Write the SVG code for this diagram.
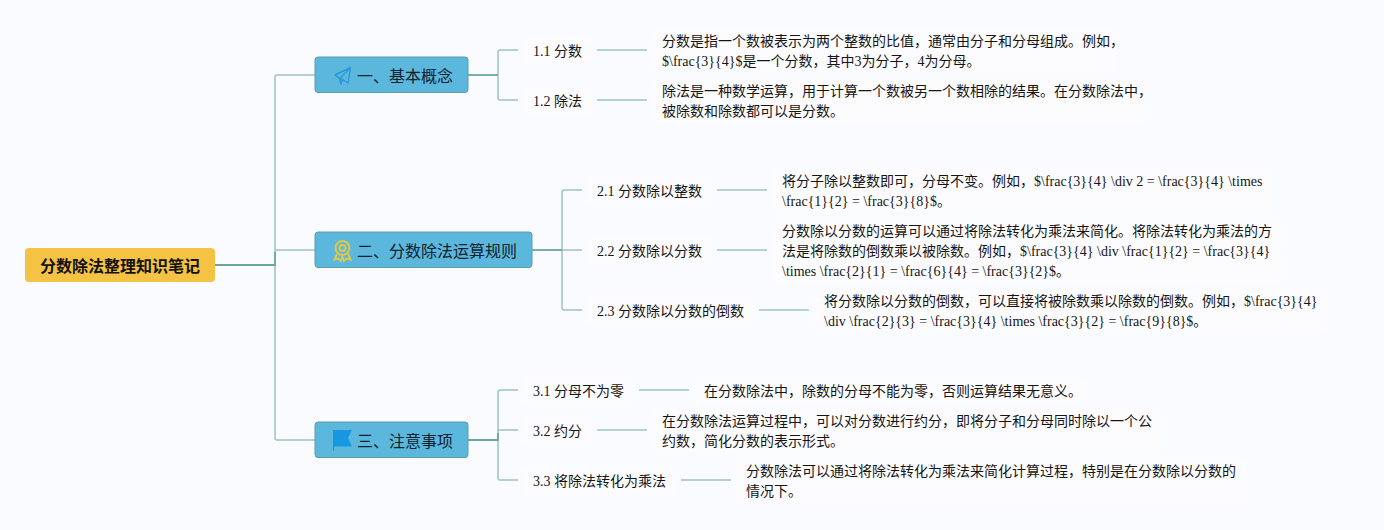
<svg xmlns="http://www.w3.org/2000/svg" width="1384" height="530" viewBox="0 0 1384 530">
<style>
text{font-family:"Liberation Serif","Noto Sans CJK SC",serif;fill:#151515;font-size:14px}
.h{font-family:"Liberation Sans","Noto Sans CJK SC",sans-serif;font-size:16px;fill:#10202c}
.r{font-family:"Noto Sans CJK SC",sans-serif;font-size:16px;font-weight:700;fill:#111}
.b{fill:#5bb8dc;stroke:#5a9ea8;stroke-width:1}
.c{fill:none;stroke:#9cc5be;stroke-width:1.5}
.d{fill:none;stroke:#6ba79f;stroke-width:1.8}
.g{fill:#fcfcff}
</style>
<rect width="1384" height="530" fill="#fafbff"/>
<g id="connectors">
<path class="c" d="M275 265V77q0-2 2-2H315M275 265V252q0-2 2-2H315M275 265V438q0 2 2 2H315"/>
<path class="d" d="M215 265H275V252"/>
<path class="c" d="M498 75V52q0-2 2-2H518M498 75V98q0 2 2 2H518"/>
<path class="d" d="M468 75H498"/>
<path class="c" d="M597 50H647M597 100H647"/>
<path class="c" d="M562 250V192q0-2 2-2H582M562 250H582M562 250V308q0 2 2 2H582"/>
<path class="d" d="M532 250H562"/>
<path class="c" d="M717 190H767M717 250H767M759 310H809"/>
<path class="c" d="M498 440V392q0-2 2-2H518M498 440V432q0-2 2-2H518M498 440V478q0 2 2 2H518"/>
<path class="d" d="M468 440H498V433"/>
<path class="c" d="M639 390H689M597 430H647M681 480H731"/>
</g>
<g id="root"><rect x="25" y="248" width="190" height="34" rx="4" fill="#f5c343"/><text class="r" x="40" y="271.500">分数除法整理知识笔记</text></g>
<g id="n1"><rect class="b" x="315" y="57" width="153" height="35.500" rx="3"/>
<path d="M350.500 67.500 L335 75 L339.500 78.500 L350.500 67.500 L348 83 L342.500 79.500 L339.500 78.500 L341 84 L342.500 79.500" fill="none" stroke="#2a98dc" stroke-width="1.400" stroke-linejoin="round"/>
<text class="h" x="357" y="81.500">一、基本概念</text></g>
<g id="n2"><rect class="b" x="315" y="232" width="217" height="35.500" rx="3"/>
<g fill="none" stroke="#e0c64a" stroke-width="2"><circle cx="342.500" cy="248" r="7"/><circle cx="342.500" cy="248" r="3"/><path d="M337 254L334.500 259.500L338.500 258.500L341 261L342.500 256.500L344 261L346.500 258.500L350.500 259.500L348 254"/></g>
<text class="h" x="357" y="256.500">二、分数除法运算规则</text></g>
<g id="n3"><rect class="b" x="315" y="422" width="153" height="35.500" rx="3"/>
<path d="M333 430H352L348 438L352 446.500H334V451H333Z" fill="#1797e0"/>
<text class="h" x="357" y="446.500">三、注意事项</text></g>
<g id="t11"><rect class="g" x="523" y="38" width="69" height="26"/><text x="533" y="56">1.1 分数</text></g>
<g id="t12"><rect class="g" x="523" y="88" width="69" height="26"/><text x="533" y="106">1.2 除法</text></g>
<g id="l11"><rect class="g" x="652" y="30" width="464" height="42"/><text x="662" y="46">分数是指一个数被表示为两个整数的比值，通常由分子和分母组成。例如，</text><text x="662" y="66">$\frac{3}{4}$是一个分数，其中3为分子，4为分母。</text></g>
<g id="l12"><rect class="g" x="652" y="80" width="494" height="42"/><text x="662" y="96">除法是一种数学运算，用于计算一个数被另一个数相除的结果。在分数除法中，</text><text x="662" y="116">被除数和除数都可以是分数。</text></g>
<g id="t21"><rect class="g" x="587" y="178" width="125" height="26"/><text x="597" y="196">2.1 分数除以整数</text></g>
<g id="t22"><rect class="g" x="587" y="238" width="125" height="26"/><text x="597" y="256">2.2 分数除以分数</text></g>
<g id="t23"><rect class="g" x="587" y="298" width="167" height="26"/><text x="597" y="316">2.3 分数除以分数的倒数</text></g>
<g id="l21"><rect class="g" x="772" y="170" width="500" height="42"/><text x="782" y="186">将分子除以整数即可，分母不变。例如，$\frac{3}{4} \div 2 = \frac{3}{4} \times</text><text x="782" y="206">\frac{1}{2} = \frac{3}{8}$。</text></g>
<g id="l22"><rect class="g" x="772" y="220" width="510" height="62"/><text x="782" y="236">分数除以分数的运算可以通过将除法转化为乘法来简化。将除法转化为乘法的方</text><text x="782" y="256">法是将除数的倒数乘以被除数。例如，$\frac{3}{4} \div \frac{1}{2} = \frac{3}{4}</text><text x="782" y="276">\times \frac{2}{1} = \frac{6}{4} = \frac{3}{2}$。</text></g>
<g id="l23"><rect class="g" x="814" y="290" width="512" height="42"/><text x="824" y="306">将分数除以分数的倒数，可以直接将被除数乘以除数的倒数。例如，$\frac{3}{4}</text><text x="824" y="326">\div \frac{2}{3} = \frac{3}{4} \times \frac{3}{2} = \frac{9}{8}$。</text></g>
<g id="t31"><rect class="g" x="523" y="378" width="111" height="26"/><text x="533" y="396">3.1 分母不为零</text></g>
<g id="t32"><rect class="g" x="523" y="418" width="69" height="26"/><text x="533" y="436">3.2 约分</text></g>
<g id="t33"><rect class="g" x="523" y="468" width="153" height="26"/><text x="533" y="486">3.3 将除法转化为乘法</text></g>
<g id="l31"><rect class="g" x="694" y="380" width="392" height="22"/><text x="704" y="396">在分数除法中，除数的分母不能为零，否则运算结果无意义。</text></g>
<g id="l32"><rect class="g" x="652" y="410" width="510" height="42"/><text x="662" y="426">在分数除法运算过程中，可以对分数进行约分，即将分子和分母同时除以一个公</text><text x="662" y="446">约数，简化分数的表示形式。</text></g>
<g id="l33"><rect class="g" x="736" y="460" width="510" height="42"/><text x="746" y="476">分数除法可以通过将除法转化为乘法来简化计算过程，特别是在分数除以分数的</text><text x="746" y="496">情况下。</text></g>
</svg>
